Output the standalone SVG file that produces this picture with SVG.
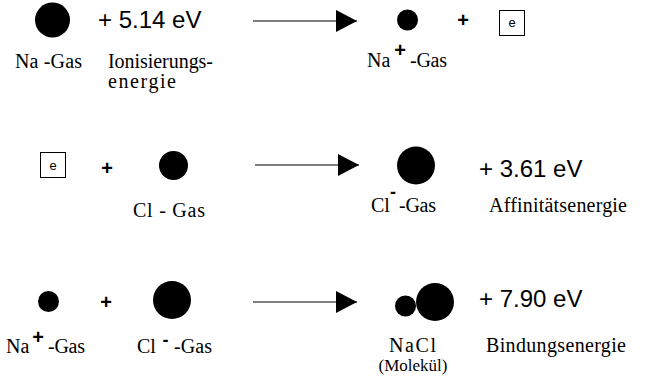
<svg xmlns="http://www.w3.org/2000/svg" width="648" height="382" viewBox="0 0 648 382">
<style>
.t{font-family:"Liberation Serif","Times New Roman",serif;font-size:20px;fill:#000}
.a{font-family:"Liberation Sans",Arial,sans-serif;font-size:24px;fill:#000}
.p{font-family:"Liberation Sans",Arial,sans-serif;font-size:20px;font-weight:bold;fill:#000;text-anchor:middle}
.m{font-family:"Liberation Sans",Arial,sans-serif;font-size:18px;font-weight:bold;fill:#000;text-anchor:middle}
.e{font-family:"Liberation Sans",Arial,sans-serif;font-size:13px;fill:#000;text-anchor:middle}
.box{fill:#fff;stroke:#000;stroke-width:1}
.c{fill:#000}
.ln{stroke:#000;stroke-width:1.2;fill:none;marker-end:url(#ah)}
</style>
<defs>
<marker id="ah" markerUnits="userSpaceOnUse" markerWidth="22" markerHeight="22" refX="21" refY="11" orient="auto" viewBox="0 0 22 22">
<path d="M0,0 L21,11 L0,22 Z" fill="#000"/>
</marker>
</defs>
<rect width="648" height="382" fill="#fff"/>
<g id="connectors">
<line class="ln" x1="253" y1="21" x2="357" y2="21"/>
<line class="ln" x1="255" y1="165" x2="359" y2="165"/>
<line class="ln" x1="253" y1="302" x2="357" y2="302"/>
</g>
<g id="na-gas">
<circle class="c" cx="52.5" cy="20" r="17.5"/>
<text class="t" x="15" y="68" textLength="67">Na -Gas</text>
</g>
<g id="ionisierung">
<text class="a" x="98" y="28">+ 5.14 eV</text>
<text class="t" x="108" y="68" textLength="105">Ionisierungs-</text>
<text class="t" x="108" y="88" textLength="68">energie</text>
</g>
<g id="na-ion-1">
<circle class="c" cx="407.5" cy="20" r="10.5"/>
<text class="t" x="367" y="67">Na</text>
<text class="p" x="400" y="57">+</text>
<text class="t" x="410" y="67" textLength="37">-Gas</text>
</g>
<text class="p" x="463" y="27">+</text>
<g id="electron-1">
<rect class="box" x="499.5" y="10.5" width="25" height="25"/>
<text class="e" x="512" y="27">e</text>
</g>
<g id="electron-2">
<rect class="box" x="40.5" y="152.5" width="25" height="25"/>
<text class="e" x="53" y="170">e</text>
</g>
<text class="p" x="107" y="175">+</text>
<g id="cl-gas">
<circle class="c" cx="173.5" cy="165.5" r="14.5"/>
<text class="t" x="133" y="217" textLength="72">Cl - Gas</text>
</g>
<g id="cl-ion-1">
<circle class="c" cx="416" cy="165.5" r="19"/>
<text class="t" x="371" y="212">Cl</text>
<text class="m" x="393" y="198">-</text>
<text class="t" x="399" y="212" textLength="37">-Gas</text>
</g>
<g id="affinitaet">
<text class="a" x="479" y="177">+ 3.61 eV</text>
<text class="t" x="489" y="212" textLength="138">Affinitätsenergie</text>
</g>
<g id="na-ion-2">
<circle class="c" cx="48.5" cy="301.5" r="10.5"/>
<text class="t" x="6" y="353">Na</text>
<text class="p" x="38" y="344">+</text>
<text class="t" x="48" y="353" textLength="37">-Gas</text>
</g>
<text class="p" x="106" y="309">+</text>
<g id="cl-ion-2">
<circle class="c" cx="172" cy="300" r="19"/>
<text class="t" x="137" y="353">Cl</text>
<text class="m" x="165.5" y="346">-</text>
<text class="t" x="174" y="353" textLength="38">-Gas</text>
</g>
<g id="nacl">
<circle class="c" cx="405.5" cy="306" r="10.5"/>
<circle class="c" cx="435" cy="302" r="19"/>
<text class="t" x="389" y="352" textLength="47">NaCl</text>
<text class="t" x="413" y="371" text-anchor="middle" style="font-size:17px">(Molekül)</text>
</g>
<g id="bindung">
<text class="a" x="479" y="307">+ 7.90 eV</text>
<text class="t" x="486" y="352" textLength="140">Bindungsenergie</text>
</g>
</svg>
